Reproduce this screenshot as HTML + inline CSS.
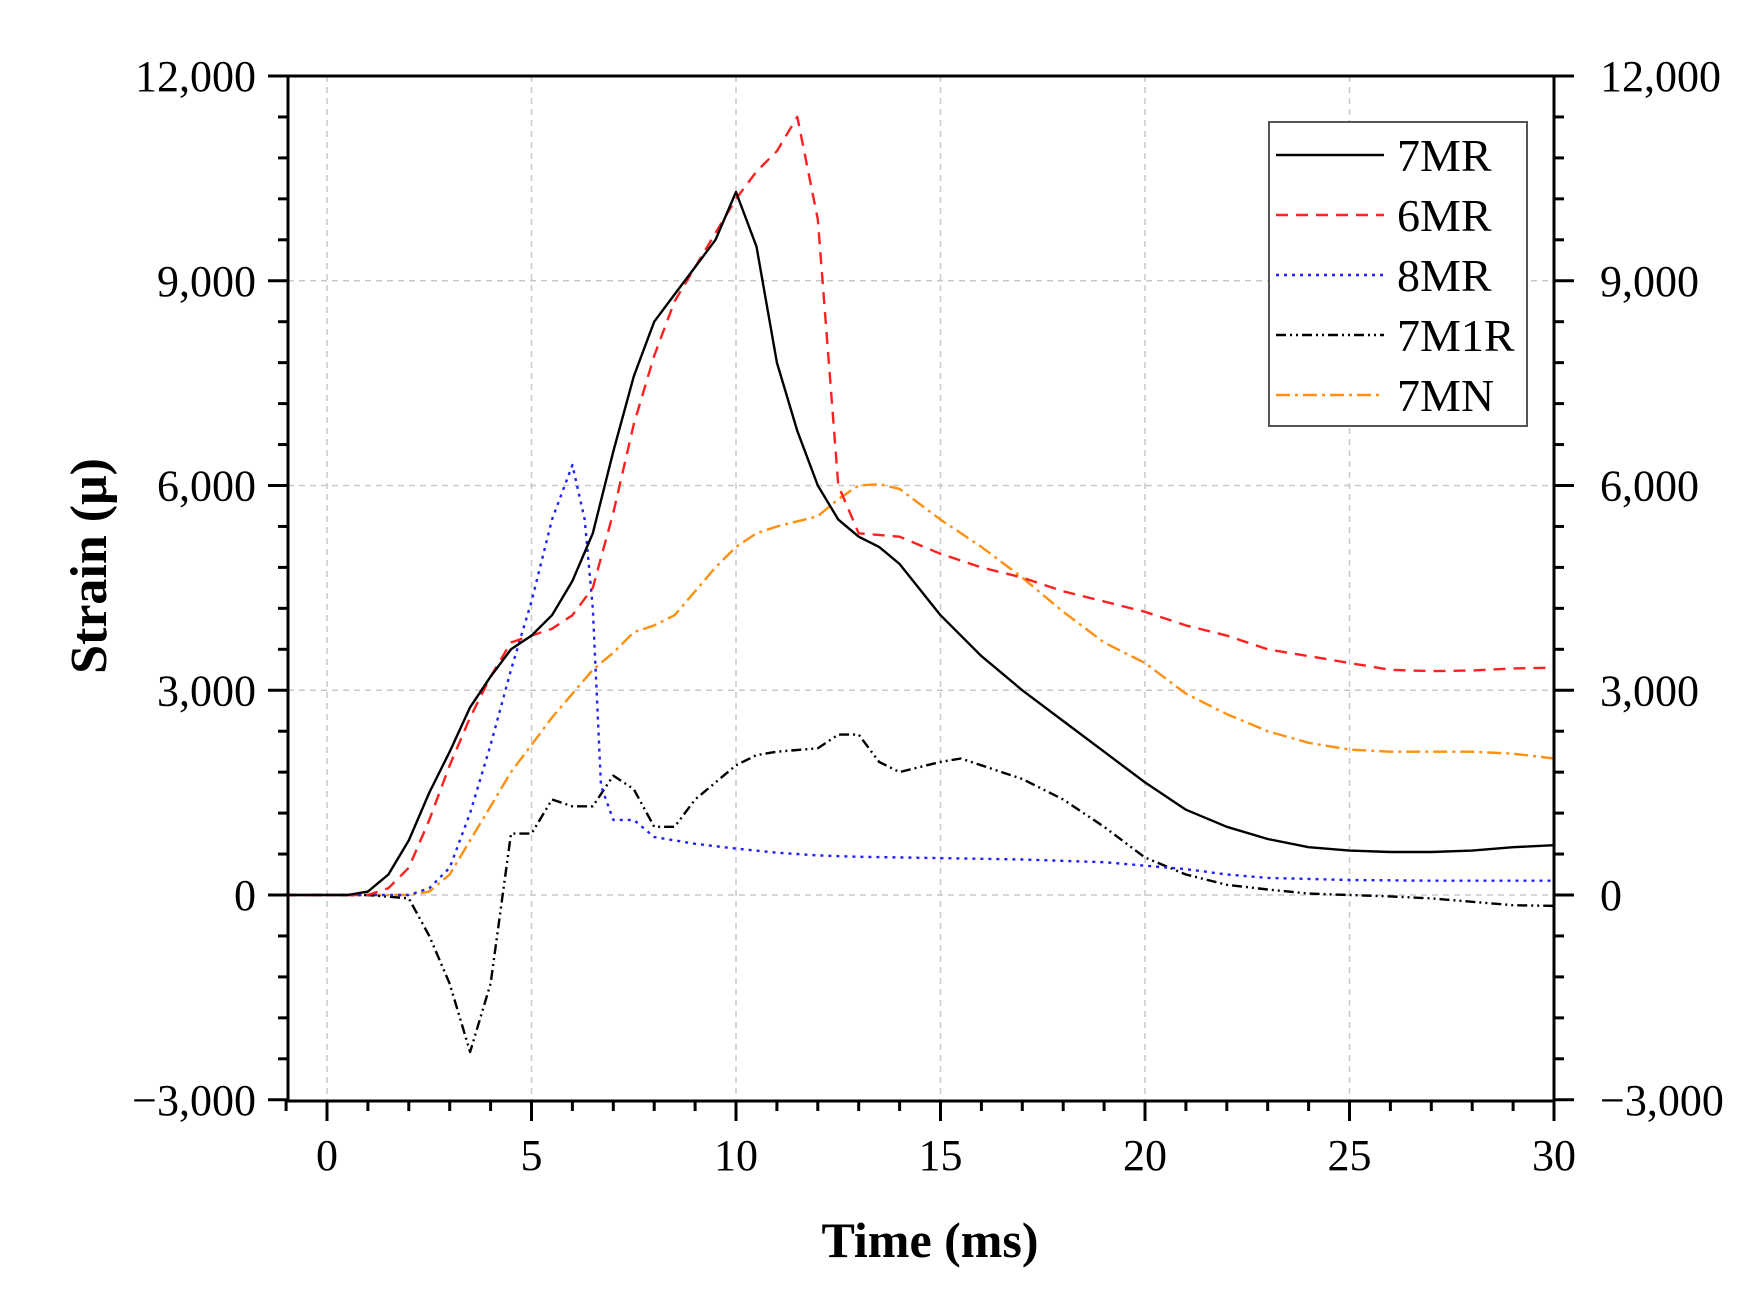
<!DOCTYPE html>
<html><head><meta charset="utf-8"><style>
html,body{margin:0;padding:0;background:#fff}
svg{display:block}
text{font-family:"Liberation Serif",serif;fill:#000}
</style></head><body>
<svg id="s" xmlns="http://www.w3.org/2000/svg" width="1763" height="1301" viewBox="0 0 1763 1301"></svg>
<script>
const S=document.getElementById('s');
const X=t=>327+t*40.9, Y=v=>895-v*0.06825;
let h='';
for(let t=0;t<=25;t+=5) h+=`<line x1="${X(t)}" y1="76" x2="${X(t)}" y2="1101" stroke="#c8c8c8" stroke-width="1.5" stroke-dasharray="6,5"/>`;
for(let v=0;v<=9000;v+=3000) h+=`<line x1="288" y1="${Y(v)}" x2="1554" y2="${Y(v)}" stroke="#c8c8c8" stroke-width="1.5" stroke-dasharray="6,5"/>`;
const data={
mr7:[[-1,0],[0.5,0],[1,50],[1.5,300],[2,800],[2.5,1500],[3,2100],[3.5,2750],[4,3200],[4.5,3600],[5,3800],[5.5,4100],[6,4600],[6.5,5300],[7,6500],[7.5,7600],[8,8400],[8.5,8800],[9,9200],[9.5,9600],[10,10300],[10.5,9500],[11,7800],[11.5,6800],[12,6000],[12.5,5500],[13,5250],[13.5,5100],[14,4850],[15,4100],[16,3500],[17,3000],[18,2550],[19,2100],[20,1650],[21,1250],[22,1000],[23,820],[24,700],[25,650],[26,630],[27,630],[28,650],[29,700],[30,730]],
mr6:[[-1,0],[1,0],[1.5,100],[2,400],[2.5,1100],[3,1900],[3.5,2600],[4,3200],[4.5,3700],[5,3800],[5.5,3900],[6,4100],[6.5,4500],[7,5600],[7.5,6900],[8,7900],[8.5,8700],[9,9200],[9.5,9700],[10,10200],[10.5,10600],[11,10900],[11.5,11400],[12,9900],[12.5,6000],[13,5300],[14,5250],[15,5000],[16,4800],[17,4650],[18,4450],[19,4300],[20,4150],[21,3950],[22,3800],[23,3600],[24,3500],[25,3400],[26,3300],[27,3280],[28,3290],[29,3320],[30,3330]],
mr8:[[-1,0],[2,0],[2.5,100],[3,400],[3.5,1200],[4,2200],[4.5,3300],[5,4300],[5.5,5500],[6,6300],[6.3,5500],[6.5,4200],[6.7,1600],[7,1100],[7.5,1100],[8,850],[9,750],[10,680],[11,620],[12,580],[13,560],[15,540],[17,520],[19,480],[20,430],[21,380],[22,300],[23,250],[25,220],[27,210],[30,210]],
m1r:[[-1,0],[1,0],[2,-50],[2.5,-600],[3,-1300],[3.5,-2300],[4,-1300],[4.5,900],[5,900],[5.5,1400],[6,1300],[6.5,1300],[7,1750],[7.5,1550],[8,1000],[8.5,1000],[9,1400],[10,1900],[10.5,2050],[11,2100],[12,2150],[12.5,2350],[13,2350],[13.5,1950],[14,1800],[15,1950],[15.5,2000],[16,1900],[17,1700],[18,1400],[19,1000],[20,550],[21,300],[22,150],[23,80],[24,20],[25,0],[26,-20],[27,-50],[28,-100],[29,-150],[30,-160]],
mn7:[[-1,0],[2,0],[2.5,50],[3,300],[3.5,800],[4,1300],[4.5,1800],[5,2200],[5.5,2600],[6,2950],[6.5,3300],[7,3550],[7.5,3850],[8,3950],[8.5,4100],[9,4450],[9.5,4800],[10,5100],[10.5,5300],[11,5400],[12,5550],[12.5,5800],[13,6000],[13.5,6020],[14,5950],[15,5500],[16,5100],[17,4650],[18,4150],[19,3700],[20,3400],[21,2950],[22,2650],[23,2400],[24,2230],[25,2130],[26,2100],[27,2100],[28,2100],[29,2070],[30,2000]]};
const sty={mr7:['#000',''],mr6:['#ff2020','12,8'],mr8:['#2020ff','3,5'],m1r:['#000','10,4,2,4,2,4'],mn7:['#ff9010','14,5,3,5']};
for(const k of ['mn7','m1r','mr8','mr6','mr7']){
 const p=data[k].map(a=>X(a[0]).toFixed(1)+','+Y(a[1]).toFixed(1)).join(' ');
 h+=`<polyline points="${p}" fill="none" stroke="${sty[k][0]}" stroke-width="2.4" ${sty[k][1]?'stroke-dasharray="'+sty[k][1]+'"':''} stroke-linejoin="round"/>`;
}
h+=`<rect x="288" y="76" width="1266" height="1025" fill="none" stroke="#000" stroke-width="3"/>`;
for(let t=-1;t<=30;t++){const maj=t%5==0;h+=`<line x1="${X(t)}" y1="1101" x2="${X(t)}" y2="${1101+(maj?20:10)}" stroke="#000" stroke-width="3"/>`;
 if(maj) h+=`<text x="${X(t)}" y="1170" font-size="44" text-anchor="middle">${t}</text>`;}
for(let v=-3000;v<=12000;v+=600){const maj=v%3000==0;const L=maj?20:10;
 h+=`<line x1="288" y1="${Y(v)}" x2="${288-L}" y2="${Y(v)}" stroke="#000" stroke-width="3"/><line x1="1554" y1="${Y(v)}" x2="${1554+L}" y2="${Y(v)}" stroke="#000" stroke-width="3"/>`;
 if(maj){const s=(v<0?'\u2212':'')+Math.abs(v).toLocaleString('en-US');
 h+=`<text x="256" y="${Y(v)+15}" font-size="44" text-anchor="end">${s}</text><text x="1600" y="${Y(v)+15}" font-size="44">${s}</text>`;}}
h+=`<text x="930" y="1257" font-size="50" font-weight="bold" text-anchor="middle">Time (ms)</text>`;
h+=`<text transform="translate(106,566) rotate(-90)" font-size="52" font-weight="bold" text-anchor="middle">Strain (μ)</text>`;
h+=`<rect x="1269" y="122" width="258" height="304" fill="#fff" stroke="#555" stroke-width="2"/>`;
const names=[['mr7','7MR'],['mr6','6MR'],['mr8','8MR'],['m1r','7M1R'],['mn7','7MN']];
names.forEach((n,i)=>{const y=155+i*60;const st=sty[n[0]];
 h+=`<line x1="1276" y1="${y}" x2="1384" y2="${y}" stroke="${st[0]}" stroke-width="2.4" ${st[1]?'stroke-dasharray="'+st[1]+'"':''}/>`;
 h+=`<text x="1397" y="${y+16}" font-size="46">${n[1]}</text>`;});
S.innerHTML=h;
</script>
</body></html>
